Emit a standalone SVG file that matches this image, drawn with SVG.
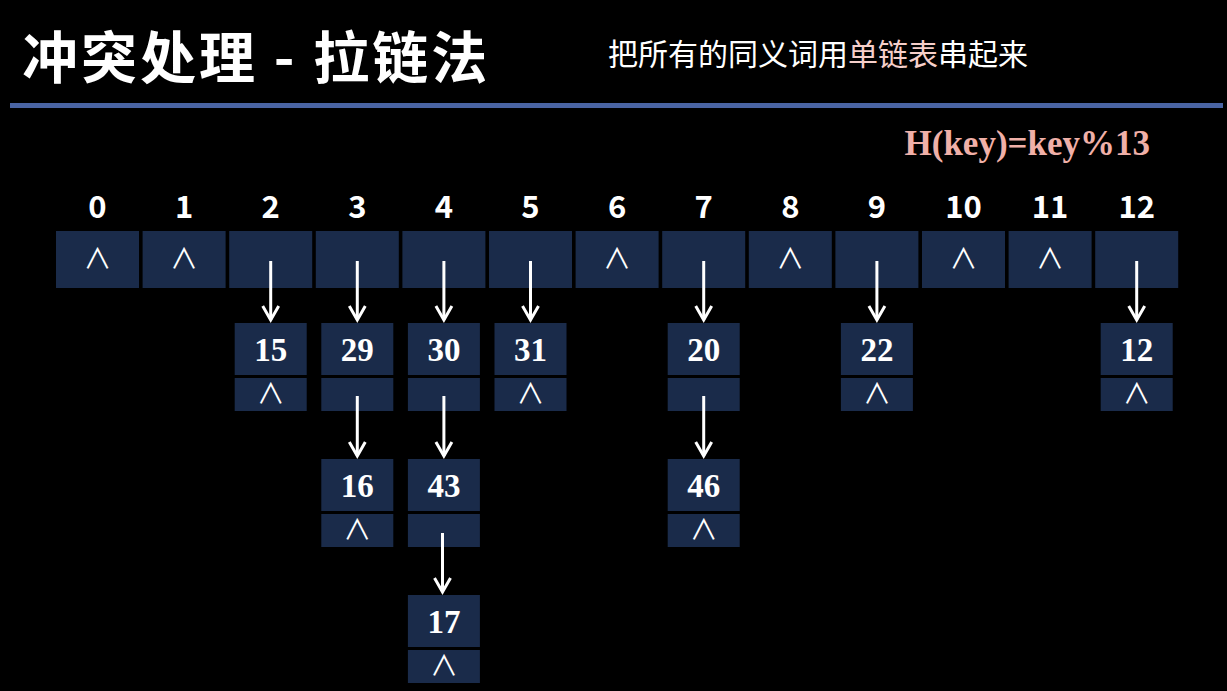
<svg xmlns="http://www.w3.org/2000/svg" width="1227" height="691" viewBox="0 0 1227 691">
<defs>
<style>
.box{fill:#1a2b4a}
.idx{font-family:"Noto Sans CJK SC","Open Sans",sans-serif;font-weight:bold;font-size:31px;fill:#ffffff;text-anchor:middle}
.nil{font-family:"Noto Sans CJK SC","DejaVu Sans",sans-serif;font-size:28px;fill:#ffffff;text-anchor:middle}
.num{font-family:"Liberation Serif","Times New Roman",serif;font-weight:bold;font-size:33px;fill:#ffffff;text-anchor:middle}
.arr{stroke:#ffffff;stroke-width:3;fill:none}
</style>
<marker id="ah" markerWidth="20" markerHeight="20" refX="16" refY="10" orient="auto" markerUnits="userSpaceOnUse" viewBox="0 0 20 20">
<polyline points="2,2 16,10 2,18" style="stroke:#ffffff;stroke-width:3;fill:none"/>
</marker>
</defs>
<rect width="1227" height="691" fill="#000000"/>
<g id="title">
<text x="22" y="78" font-family="Noto Sans CJK SC,sans-serif" font-weight="bold" font-size="56" fill="#ffffff" letter-spacing="3">冲突处理 - 拉链法</text>
<text x="608" y="65" font-family="Noto Sans CJK SC,sans-serif" font-size="30" fill="#ffffff">把所有的同义词用<tspan fill="#f6cfca">单链表</tspan>串起来</text>
<rect x="10" y="103" width="1213" height="5" fill="#4a64a3"/>
<text x="1150" y="155" text-anchor="end" font-family="Liberation Serif,Times New Roman,serif" font-weight="bold" font-size="35" fill="#f0b0a8">H(key)=key%13</text>
</g>
<g id="buckets">
<g id="b0"><text class="idx" x="97.5" y="218">0</text><rect class="box" x="56" y="231" width="83" height="57"/><text class="nil" x="97.5" y="269">∧</text></g>
<g id="b1"><text class="idx" x="184.1" y="218">1</text><rect class="box" x="142.6" y="231" width="83" height="57"/><text class="nil" x="184.1" y="269">∧</text></g>
<g id="b2"><text class="idx" x="270.7" y="218">2</text><rect class="box" x="229.2" y="231" width="83" height="57"/></g>
<g id="b3"><text class="idx" x="357.3" y="218">3</text><rect class="box" x="315.8" y="231" width="83" height="57"/></g>
<g id="b4"><text class="idx" x="443.9" y="218">4</text><rect class="box" x="402.4" y="231" width="83" height="57"/></g>
<g id="b5"><text class="idx" x="530.5" y="218">5</text><rect class="box" x="489" y="231" width="83" height="57"/></g>
<g id="b6"><text class="idx" x="617.1" y="218">6</text><rect class="box" x="575.6" y="231" width="83" height="57"/><text class="nil" x="617.1" y="269">∧</text></g>
<g id="b7"><text class="idx" x="703.7" y="218">7</text><rect class="box" x="662.2" y="231" width="83" height="57"/></g>
<g id="b8"><text class="idx" x="790.3" y="218">8</text><rect class="box" x="748.8" y="231" width="83" height="57"/><text class="nil" x="790.3" y="269">∧</text></g>
<g id="b9"><text class="idx" x="876.9" y="218">9</text><rect class="box" x="835.4" y="231" width="83" height="57"/></g>
<g id="b10"><text class="idx" x="963.5" y="218">10</text><rect class="box" x="922" y="231" width="83" height="57"/><text class="nil" x="963.5" y="269">∧</text></g>
<g id="b11"><text class="idx" x="1050.1" y="218">11</text><rect class="box" x="1008.6" y="231" width="83" height="57"/><text class="nil" x="1050.1" y="269">∧</text></g>
<g id="b12"><text class="idx" x="1136.7" y="218">12</text><rect class="box" x="1095.2" y="231" width="83" height="57"/></g>
</g>
<g id="n15"><rect class="box" x="234.7" y="323" width="72" height="52"/><text class="num" x="270.7" y="361">15</text><rect class="box" x="234.7" y="378" width="72" height="33"/><text class="nil" x="270.7" y="404">∧</text></g>
<g id="n29"><rect class="box" x="321.3" y="323" width="72" height="52"/><text class="num" x="357.3" y="361">29</text><rect class="box" x="321.3" y="378" width="72" height="33"/></g>
<g id="n16"><rect class="box" x="321.3" y="459" width="72" height="52"/><text class="num" x="357.3" y="497">16</text><rect class="box" x="321.3" y="514" width="72" height="33"/><text class="nil" x="357.3" y="540">∧</text></g>
<g id="n30"><rect class="box" x="407.9" y="323" width="72" height="52"/><text class="num" x="443.9" y="361">30</text><rect class="box" x="407.9" y="378" width="72" height="33"/></g>
<g id="n43"><rect class="box" x="407.9" y="459" width="72" height="52"/><text class="num" x="443.9" y="497">43</text><rect class="box" x="407.9" y="514" width="72" height="33"/></g>
<g id="n17"><rect class="box" x="407.9" y="595" width="72" height="52"/><text class="num" x="443.9" y="633">17</text><rect class="box" x="407.9" y="650" width="72" height="33"/><text class="nil" x="443.9" y="676">∧</text></g>
<g id="n31"><rect class="box" x="494.5" y="323" width="72" height="52"/><text class="num" x="530.5" y="361">31</text><rect class="box" x="494.5" y="378" width="72" height="33"/><text class="nil" x="530.5" y="404">∧</text></g>
<g id="n20"><rect class="box" x="667.7" y="323" width="72" height="52"/><text class="num" x="703.7" y="361">20</text><rect class="box" x="667.7" y="378" width="72" height="33"/></g>
<g id="n46"><rect class="box" x="667.7" y="459" width="72" height="52"/><text class="num" x="703.7" y="497">46</text><rect class="box" x="667.7" y="514" width="72" height="33"/><text class="nil" x="703.7" y="540">∧</text></g>
<g id="n22"><rect class="box" x="840.9" y="323" width="72" height="52"/><text class="num" x="876.9" y="361">22</text><rect class="box" x="840.9" y="378" width="72" height="33"/><text class="nil" x="876.9" y="404">∧</text></g>
<g id="n12"><rect class="box" x="1100.7" y="323" width="72" height="52"/><text class="num" x="1136.7" y="361">12</text><rect class="box" x="1100.7" y="378" width="72" height="33"/><text class="nil" x="1136.7" y="404">∧</text></g>
<g id="connectors">
<line class="arr" x1="270.7" y1="261" x2="270.7" y2="320" marker-end="url(#ah)"/>
<line class="arr" x1="357.3" y1="261" x2="357.3" y2="320" marker-end="url(#ah)"/>
<line class="arr" x1="443.9" y1="261" x2="443.9" y2="320" marker-end="url(#ah)"/>
<line class="arr" x1="530.5" y1="261" x2="530.5" y2="320" marker-end="url(#ah)"/>
<line class="arr" x1="703.7" y1="261" x2="703.7" y2="320" marker-end="url(#ah)"/>
<line class="arr" x1="876.9" y1="261" x2="876.9" y2="320" marker-end="url(#ah)"/>
<line class="arr" x1="1136.7" y1="261" x2="1136.7" y2="320" marker-end="url(#ah)"/>
<line class="arr" x1="357.3" y1="396" x2="357.3" y2="456" marker-end="url(#ah)"/>
<line class="arr" x1="443.9" y1="396" x2="443.9" y2="456" marker-end="url(#ah)"/>
<line class="arr" x1="703.7" y1="396" x2="703.7" y2="456" marker-end="url(#ah)"/>
<line class="arr" x1="442.5" y1="533" x2="442.5" y2="592" marker-end="url(#ah)"/>
</g>
</svg>
